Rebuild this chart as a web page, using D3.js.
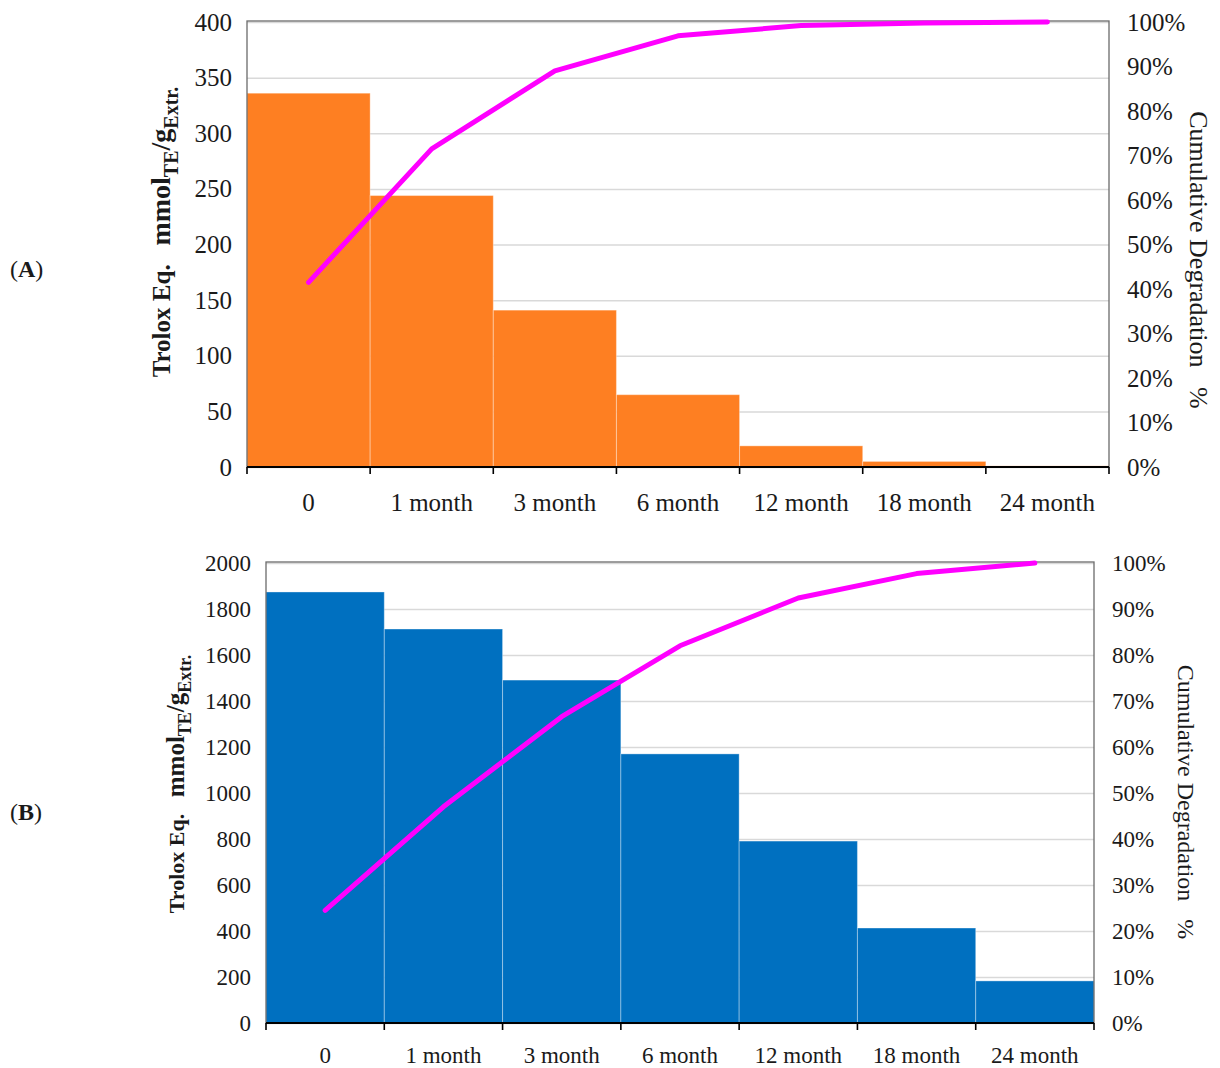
<!DOCTYPE html>
<html>
<head>
<meta charset="utf-8">
<script src="https://cdn.jsdelivr.net/npm/d3@7"></script>
<style>
  body { margin: 0; background: #fff; }
  svg { display: block; }
  text { font-family: "Liberation Serif", "Times New Roman", serif; fill: #1a1a1a; }
</style>
</head>
<body>
<div id="root"></div>
<script>
// Data
const categories = ["0", "1 month", "3 month", "6 month", "12 month", "18 month", "24 month"];

const troloxA = [336, 244, 141, 65, 19, 5, 1];
const cumulativeA = [41.5, 71.5, 89, 96.9, 99.2, 99.8, 100];

const troloxB = [1874, 1713, 1491, 1170, 791, 413, 183];
const cumulativeB = [24.5, 47, 66.6, 82, 92.4, 97.7, 100];

const leftTicksA = [0, 50, 100, 150, 200, 250, 300, 350, 400];
const leftTicksB = [0, 200, 400, 600, 800, 1000, 1200, 1400, 1600, 1800, 2000];
const rightTicks = [0, 10, 20, 30, 40, 50, 60, 70, 80, 90, 100];

const W = 1220, H = 1068;

const svg = d3.select("#root")
  .append("svg")
  .attr("width", W)
  .attr("height", H);

const panels = [
  {
    label: "A", bars: troloxA, cum: cumulativeA, ticks: leftTicksA,
    color: "#FE7F22", left: 247, right: 1109, top: 22, bottom: 467,
    font: 25, title: 25, unit: 28, sub: 20, rightTitle: 26,
    leftTitleX: 170, leftTitleY: 232, rightTitleX: 1190, rightTitleY: 260,
    labelY: 511, tag: { x: 10, y: 277 }
  },
  {
    label: "B", bars: troloxB, cum: cumulativeB, ticks: leftTicksB,
    color: "#0070C0", left: 266, right: 1094, top: 563, bottom: 1023,
    font: 23, title: 22, unit: 25, sub: 18, rightTitle: 24,
    leftTitleX: 184, leftTitleY: 784, rightTitleX: 1178, rightTitleY: 802,
    labelY: 1063, tag: { x: 10, y: 820 }
  }
];

panels.forEach(drawPanel);

function drawPanel(p) {
  const g = svg.append("g");

  const x = d3.scaleBand()
    .domain(categories)
    .range([p.left, p.right])
    .padding(0);

  const y = d3.scaleLinear()
    .domain([0, d3.max(p.ticks)])
    .range([p.bottom, p.top]);

  const yPct = d3.scaleLinear()
    .domain([0, 100])
    .range([p.bottom, p.top]);

  // Gridlines
  g.append("g")
    .attr("transform", `translate(${p.left},0)`)
    .call(d3.axisLeft(y).tickValues(p.ticks).tickSize(-(p.right - p.left)).tickFormat(""))
    .call(s => s.select(".domain").remove())
    .call(s => s.selectAll(".tick line").attr("stroke", "#d9d9d9").attr("stroke-width", 1.5));

  // Bars
  g.append("g")
    .selectAll("rect")
    .data(p.bars)
    .join("rect")
      .attr("x", (d, i) => x(categories[i]))
      .attr("y", d => y(d))
      .attr("width", x.bandwidth())
      .attr("height", d => y(0) - y(d))
      .attr("fill", p.color)
      .attr("stroke", "rgba(255,255,255,0.35)")
      .attr("stroke-width", 1);

  // Plot frame
  g.append("rect")
    .attr("x", p.left)
    .attr("y", p.top - 1)
    .attr("width", p.right - p.left)
    .attr("height", p.bottom - p.top + 1)
    .attr("fill", "none")
    .attr("stroke", "#6b6b6b")
    .attr("stroke-width", 1.3);

  // Bottom axis line with boundary ticks
  const bounds = categories.map(c => x(c)).concat([p.right]);
  g.append("line")
    .attr("x1", p.left).attr("x2", p.right)
    .attr("y1", p.bottom).attr("y2", p.bottom)
    .attr("stroke", "#000").attr("stroke-width", 2.2);
  g.append("g")
    .selectAll("line")
    .data(bounds)
    .join("line")
      .attr("x1", d => d).attr("x2", d => d)
      .attr("y1", p.bottom).attr("y2", p.bottom + 7)
      .attr("stroke", "#000").attr("stroke-width", 1.6);

  // Category labels
  g.append("g")
    .attr("transform", `translate(0,${p.bottom})`)
    .call(d3.axisBottom(x).tickSize(0).tickPadding(0))
    .call(s => s.select(".domain").remove())
    .call(s => s.selectAll(".tick text")
      .attr("y", null)
      .attr("dy", null)
      .attr("transform", `translate(0,${p.labelY - p.bottom})`)
      .attr("font-size", p.font)
      .attr("font-family", "Liberation Serif")
      .attr("fill", "#1a1a1a"));

  // Left axis labels
  g.append("g")
    .attr("transform", `translate(${p.left},0)`)
    .call(d3.axisLeft(y).tickValues(p.ticks).tickSize(0).tickPadding(15).tickFormat(d3.format("d")))
    .call(s => s.select(".domain").remove())
    .call(s => s.selectAll(".tick text")
      .attr("font-size", p.font)
      .attr("font-family", "Liberation Serif")
      .attr("fill", "#1a1a1a"));

  // Right axis labels
  g.append("g")
    .attr("transform", `translate(${p.right},0)`)
    .call(d3.axisRight(yPct).tickValues(rightTicks).tickSize(0).tickPadding(18).tickFormat(d => d + "%"))
    .call(s => s.select(".domain").remove())
    .call(s => s.selectAll(".tick text")
      .attr("font-size", p.font)
      .attr("font-family", "Liberation Serif")
      .attr("fill", "#1a1a1a"));

  // Cumulative line
  const line = d3.line()
    .x((d, i) => x(categories[i]) + x.bandwidth() / 2)
    .y(d => yPct(d));

  g.append("path")
    .datum(p.cum)
    .attr("d", line)
    .attr("fill", "none")
    .attr("stroke", "#FF00FF")
    .attr("stroke-width", 5)
    .attr("stroke-linecap", "round")
    .attr("stroke-linejoin", "round");

  // Left axis title with subscripts
  const lt = g.append("text")
    .attr("transform", `translate(${p.leftTitleX},${p.leftTitleY}) rotate(-90)`)
    .attr("text-anchor", "middle")
    .attr("font-size", p.title)
    .attr("font-weight", "bold")
    .style("white-space", "pre");
  const shift = p.unit * 0.28;
  lt.append("tspan").text("Trolox Eq.   ");
  lt.append("tspan").attr("font-size", p.unit).text("mmol");
  lt.append("tspan").attr("font-size", p.sub).attr("dy", shift).text("TE");
  lt.append("tspan").attr("font-size", p.unit).attr("dy", -shift).text("/g");
  lt.append("tspan").attr("font-size", p.sub).attr("dy", shift).text("Extr.");

  // Right axis title
  g.append("text")
    .attr("transform", `translate(${p.rightTitleX},${p.rightTitleY}) rotate(90)`)
    .attr("text-anchor", "middle")
    .attr("font-size", p.rightTitle)
    .style("white-space", "pre")
    .text("Cumulative Degradation   %");

  // Panel tag
  const tag = g.append("text")
    .attr("x", p.tag.x)
    .attr("y", p.tag.y)
    .attr("font-size", 24);
  tag.append("tspan").text("(");
  tag.append("tspan").attr("font-weight", "bold").text(p.label);
  tag.append("tspan").text(")");
}
</script>
</body>
</html>
